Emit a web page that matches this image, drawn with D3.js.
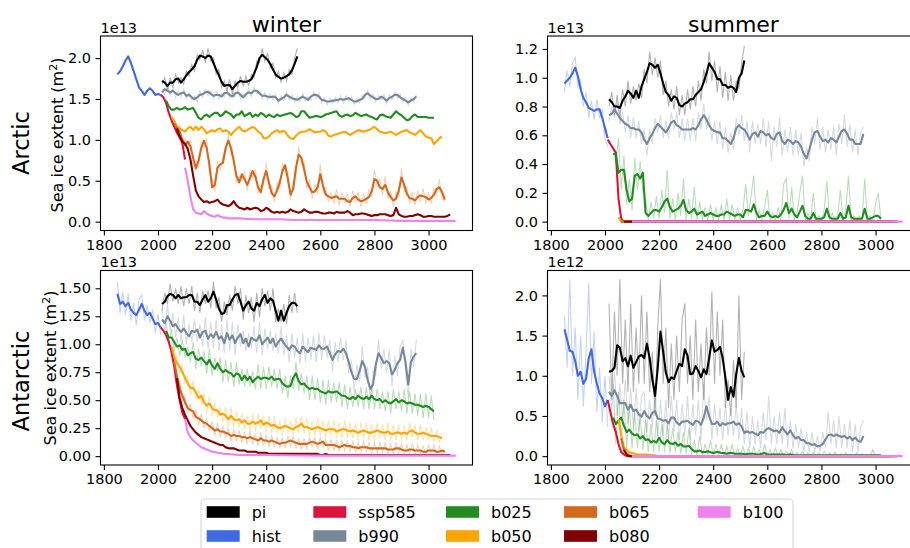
<!DOCTYPE html>
<html><head><meta charset="utf-8">
<script src="https://cdn.jsdelivr.net/npm/d3@7"></script>
<style>
html,body{margin:0;padding:0;background:#fff;}
svg text{font-family:"DejaVu Sans",sans-serif;}
</style></head>
<body><svg id="c" width="910" height="548"></svg>
<script>
// ---------------- DATA ----------------
const SERIES = ["pi","hist","ssp585","b990","b025","b050","b065","b080","b100"];
const COLORS = {pi:"#000000",hist:"#4169e1",ssp585:"#dc143c",b990:"#778899",b025:"#228b22",b050:"#ffa500",b065:"#d2691e",b080:"#800000",b100:"#ee82ee"};
// first and last year of every experiment (values are spread evenly between them)
const SPAN = {pi:[2015,2515],hist:[1850,2010],ssp585:[2010,2100],b990:[2015,2955],b025:[2030,3020],b050:[2050,3050],b065:[2060,3060],b080:[2070,3080],b100:[2100,3100]};
const X_TICKS = [1800,2000,2200,2400,2600,2800,3000];
const COL_TITLES = ["winter","summer"];
const ROW_TITLES = ["Arctic","Antarctic"];

// ---- Arctic winter (1e13 m2) ----
const AW_hist = [1.80,1.84,1.90,1.97,2.02,1.94,1.84,1.74,1.64,1.60,1.55,1.60,1.63,1.60,1.55,1.56,1.55];
const AW_ssp585 = [1.55,1.52,1.45,1.33,1.24,1.16,1.09,1.03,0.96,0.76];
const AW_pi = [1.72,1.70,1.66,1.70,1.70,1.74,1.75,1.70,1.74,1.79,1.83,1.86,1.90,1.98,2.03,2.02,2.00,2.03,2.02,1.94,1.86,1.79,1.71,1.66,1.67,1.67,1.62,1.66,1.70,1.72,1.71,1.71,1.72,1.74,1.81,1.89,2.00,2.04,2.01,1.98,1.93,1.86,1.80,1.77,1.75,1.76,1.78,1.80,1.85,1.93,2.02];
const AW_pi_raw = [1.68,1.76,1.60,1.76,1.64,1.80,1.70,1.76,1.68,1.84,1.78,1.92,1.84,2.04,1.98,2.10,1.94,2.12,1.96,2.00,1.80,1.86,1.64,1.72,1.60,1.74,1.56,1.72,1.64,1.78,1.66,1.78,1.66,1.80,1.76,1.96,1.94,2.12,1.96,2.06,1.88,1.94,1.76,1.84,1.70,1.82,1.72,1.86,1.80,2.00,2.12];
const AW_b990 = [1.58,1.62,1.60,1.58,1.60,1.57,1.55,1.57,1.58,1.54,1.55,1.52,1.50,1.52,1.55,1.56,1.58,1.59,1.56,1.54,1.55,1.55,1.53,1.57,1.58,1.55,1.53,1.57,1.58,1.55,1.52,1.56,1.58,1.57,1.60,1.60,1.57,1.54,1.54,1.53,1.52,1.53,1.52,1.48,1.50,1.52,1.55,1.53,1.51,1.50,1.49,1.51,1.53,1.51,1.49,1.53,1.55,1.55,1.53,1.49,1.48,1.47,1.47,1.48,1.48,1.49,1.50,1.49,1.50,1.51,1.49,1.47,1.47,1.49,1.50,1.55,1.57,1.54,1.52,1.50,1.50,1.53,1.51,1.48,1.51,1.53,1.55,1.55,1.52,1.50,1.48,1.46,1.48,1.50,1.53];
const AW_b990_raw = [1.62,1.56,1.66,1.54,1.64,1.52,1.60,1.52,1.62,1.50,1.58,1.48,1.54,1.46,1.60,1.52,1.62,1.54,1.60,1.50,1.59,1.50,1.57,1.52,1.62,1.51,1.57,1.52,1.62,1.51,1.56,1.52,1.63,1.53,1.64,1.56,1.61,1.50,1.58,1.49,1.56,1.49,1.56,1.44,1.54,1.48,1.59,1.49,1.55,1.46,1.53,1.47,1.57,1.47,1.53,1.49,1.59,1.51,1.57,1.45,1.52,1.43,1.51,1.44,1.52,1.45,1.54,1.45,1.54,1.47,1.53,1.43,1.51,1.45,1.54,1.51,1.61,1.50,1.56,1.46,1.54,1.49,1.55,1.44,1.55,1.49,1.59,1.51,1.56,1.46,1.52,1.42,1.52,1.46,1.56];
const AW_b025 = [1.48,1.41,1.37,1.37,1.39,1.37,1.38,1.40,1.37,1.38,1.39,1.33,1.27,1.25,1.29,1.31,1.28,1.31,1.33,1.33,1.29,1.31,1.35,1.33,1.31,1.27,1.31,1.31,1.35,1.29,1.31,1.33,1.28,1.31,1.29,1.33,1.31,1.28,1.31,1.29,1.28,1.31,1.29,1.30,1.31,1.32,1.33,1.31,1.28,1.29,1.35,1.35,1.31,1.27,1.28,1.29,1.29,1.28,1.29,1.31,1.32,1.33,1.34,1.35,1.30,1.28,1.30,1.31,1.29,1.30,1.33,1.31,1.29,1.30,1.31,1.29,1.28,1.26,1.25,1.30,1.31,1.29,1.28,1.27,1.31,1.35,1.32,1.30,1.27,1.24,1.25,1.29,1.31,1.28,1.28,1.28,1.28,1.27,1.27,1.27];
const AW_b050 = [1.28,1.23,1.16,1.14,1.12,1.10,1.14,1.16,1.12,1.16,1.12,1.16,1.13,1.08,1.10,1.12,1.10,1.13,1.14,1.10,1.12,1.10,1.06,1.10,1.13,1.16,1.12,1.10,1.12,1.14,1.16,1.14,1.10,1.08,1.02,1.02,1.04,1.08,1.10,1.12,1.09,1.11,1.10,1.05,1.02,1.01,1.05,1.08,1.10,1.10,1.11,1.13,1.11,1.09,1.10,1.10,1.12,1.10,1.05,1.04,1.06,1.07,1.08,1.09,1.10,1.08,1.06,1.08,1.10,1.12,1.11,1.10,1.11,1.12,1.14,1.16,1.13,1.10,1.09,1.08,1.09,1.10,1.08,1.06,1.08,1.10,1.11,1.12,1.09,1.08,1.06,1.09,1.12,1.08,1.04,1.03,1.02,0.95,0.98,1.02,1.04];
const AW_b065 = [1.20,1.15,1.10,1.00,0.94,0.98,0.92,0.78,0.65,0.75,0.90,0.99,0.90,0.70,0.42,0.45,0.66,0.70,0.72,0.90,0.99,0.90,0.74,0.56,0.48,0.58,0.52,0.45,0.53,0.62,0.55,0.42,0.36,0.52,0.62,0.48,0.35,0.31,0.38,0.48,0.62,0.69,0.52,0.33,0.40,0.66,0.82,0.78,0.64,0.49,0.42,0.36,0.37,0.42,0.58,0.44,0.33,0.31,0.29,0.30,0.31,0.28,0.28,0.28,0.25,0.24,0.29,0.31,0.27,0.25,0.26,0.28,0.30,0.37,0.52,0.50,0.42,0.40,0.45,0.36,0.30,0.26,0.28,0.38,0.54,0.45,0.34,0.29,0.28,0.26,0.30,0.32,0.31,0.30,0.27,0.29,0.33,0.40,0.42,0.36,0.27];
const AW_b065_raw = [1.25,1.08,1.18,0.92,1.02,0.90,1.00,0.70,0.74,0.66,0.98,0.92,1.02,0.60,0.52,0.36,0.74,0.62,0.80,0.84,1.08,0.82,0.82,0.48,0.56,0.50,0.62,0.38,0.62,0.54,0.64,0.34,0.44,0.44,0.72,0.40,0.44,0.24,0.48,0.40,0.72,0.60,0.62,0.26,0.50,0.58,0.92,0.70,0.74,0.40,0.52,0.28,0.46,0.34,0.70,0.36,0.42,0.24,0.36,0.22,0.40,0.20,0.36,0.22,0.34,0.18,0.38,0.24,0.36,0.18,0.34,0.22,0.40,0.30,0.64,0.42,0.52,0.32,0.56,0.28,0.38,0.18,0.36,0.30,0.66,0.36,0.42,0.22,0.36,0.20,0.38,0.24,0.40,0.22,0.36,0.22,0.42,0.32,0.52,0.28,0.24];
const AW_b080 = [1.14,1.04,0.98,0.95,0.89,0.76,0.56,0.38,0.31,0.27,0.24,0.25,0.23,0.24,0.25,0.27,0.23,0.21,0.20,0.19,0.21,0.25,0.20,0.17,0.16,0.15,0.17,0.15,0.16,0.17,0.16,0.13,0.14,0.17,0.15,0.12,0.11,0.12,0.11,0.12,0.11,0.12,0.15,0.13,0.12,0.11,0.12,0.15,0.13,0.11,0.11,0.12,0.12,0.11,0.10,0.10,0.11,0.11,0.10,0.12,0.11,0.11,0.11,0.13,0.11,0.08,0.09,0.09,0.10,0.10,0.09,0.08,0.07,0.08,0.08,0.09,0.09,0.09,0.08,0.07,0.08,0.17,0.09,0.07,0.06,0.06,0.07,0.07,0.08,0.09,0.08,0.06,0.06,0.07,0.07,0.06,0.06,0.06,0.06,0.06,0.07,0.09];
const AW_b100_years = [2100,2110,2120,2130,2140,2150,2160,2170,2180,2190,2200,2210,2220,2230,2240,2250,2260,2280,2300,2350,2400,2450,2500,2600,2700,2800,2900,3000,3100];
const AW_b100 = [0.66,0.50,0.30,0.15,0.11,0.10,0.09,0.13,0.10,0.08,0.07,0.06,0.08,0.06,0.05,0.05,0.04,0.04,0.04,0.03,0.03,0.03,0.02,0.02,0.02,0.02,0.01,0.01,0.01];

// ---- Arctic summer (1e13 m2) ----
const AS_hist = [0.96,0.98,1.00,1.03,1.07,1.01,0.92,0.86,0.83,0.79,0.78,0.77,0.78,0.78,0.72,0.65,0.58];
const AS_hist_raw = [0.90,1.05,0.94,1.10,1.14,0.94,0.98,0.80,0.90,0.72,0.84,0.71,0.85,0.72,0.78,0.58,0.52];
const AS_ssp585 = [0.57,0.54,0.51,0.48,0.16,0.02,0.0,0.0,0.0,0.0];
const AS_pi = [0.85,0.83,0.80,0.80,0.79,0.84,0.87,0.91,0.89,0.86,0.91,0.86,0.94,0.99,1.04,1.10,1.09,1.07,1.09,1.03,0.96,0.90,0.88,0.84,0.87,0.86,0.81,0.80,0.82,0.83,0.85,0.85,0.88,0.90,0.92,0.97,1.03,1.10,1.07,1.04,0.99,0.99,0.95,0.95,0.93,0.94,0.93,0.90,1.00,1.03,1.12];
const AS_pi_raw = [0.80,0.90,0.74,0.88,0.72,0.92,0.80,0.98,0.82,0.94,0.84,0.96,0.86,1.06,0.96,1.18,1.02,1.14,1.00,1.12,0.88,0.98,0.80,0.92,0.78,0.94,0.74,0.88,0.74,0.92,0.78,0.94,0.80,0.98,0.84,1.06,0.96,1.18,0.98,1.12,0.90,1.08,0.86,1.04,0.84,1.02,0.84,0.98,0.92,1.10,1.22];
const AS_b990 = [0.74,0.75,0.78,0.75,0.72,0.70,0.68,0.67,0.65,0.65,0.64,0.64,0.62,0.57,0.54,0.58,0.61,0.65,0.68,0.66,0.64,0.62,0.65,0.69,0.70,0.67,0.66,0.64,0.64,0.64,0.64,0.65,0.64,0.67,0.71,0.74,0.71,0.67,0.64,0.63,0.62,0.62,0.58,0.58,0.56,0.54,0.58,0.65,0.67,0.65,0.64,0.61,0.57,0.61,0.62,0.59,0.63,0.62,0.60,0.61,0.58,0.57,0.61,0.62,0.56,0.54,0.57,0.56,0.54,0.56,0.55,0.52,0.47,0.44,0.50,0.57,0.62,0.63,0.59,0.56,0.57,0.55,0.58,0.57,0.55,0.59,0.63,0.64,0.61,0.57,0.57,0.54,0.54,0.54,0.61];
const AS_b990_raw = [0.70,0.80,0.72,0.84,0.68,0.76,0.62,0.74,0.58,0.72,0.58,0.70,0.54,0.64,0.46,0.64,0.54,0.72,0.62,0.74,0.58,0.70,0.58,0.76,0.64,0.76,0.58,0.72,0.56,0.72,0.56,0.72,0.56,0.76,0.64,0.82,0.64,0.74,0.56,0.70,0.54,0.70,0.50,0.66,0.48,0.62,0.50,0.72,0.60,0.74,0.56,0.70,0.48,0.70,0.54,0.68,0.54,0.72,0.52,0.70,0.42,0.66,0.52,0.72,0.46,0.64,0.48,0.66,0.46,0.64,0.46,0.62,0.38,0.52,0.42,0.66,0.54,0.72,0.50,0.66,0.48,0.64,0.50,0.66,0.46,0.68,0.54,0.74,0.52,0.68,0.48,0.64,0.46,0.62,0.66];
const AS_b025 = [0.47,0.47,0.34,0.36,0.36,0.22,0.14,0.16,0.32,0.33,0.30,0.34,0.06,0.04,0.06,0.08,0.08,0.07,0.10,0.14,0.16,0.10,0.07,0.08,0.09,0.11,0.15,0.08,0.06,0.07,0.09,0.05,0.06,0.07,0.04,0.05,0.06,0.05,0.04,0.04,0.05,0.05,0.07,0.06,0.05,0.04,0.05,0.05,0.03,0.08,0.08,0.07,0.12,0.06,0.03,0.04,0.04,0.07,0.04,0.03,0.04,0.03,0.05,0.08,0.13,0.06,0.09,0.05,0.03,0.07,0.11,0.04,0.02,0.02,0.06,0.02,0.02,0.02,0.03,0.09,0.03,0.02,0.02,0.02,0.06,0.02,0.03,0.11,0.03,0.02,0.02,0.02,0.02,0.09,0.02,0.02,0.03,0.04,0.04,0.02];
const AS_b025_raw = [0.52,0.40,0.58,0.22,0.46,0.12,0.30,0.08,0.44,0.22,0.42,0.20,0.16,0.01,0.14,0.02,0.18,0.02,0.22,0.06,0.36,0.02,0.16,0.01,0.20,0.04,0.30,0.01,0.16,0.02,0.24,0.01,0.14,0.01,0.10,0.01,0.12,0.01,0.10,0.01,0.12,0.01,0.16,0.01,0.12,0.01,0.10,0.01,0.08,0.26,0.04,0.18,0.32,0.01,0.08,0.01,0.10,0.22,0.01,0.06,0.01,0.10,0.01,0.26,0.30,0.02,0.24,0.01,0.06,0.20,0.32,0.01,0.06,0.01,0.20,0.01,0.04,0.01,0.08,0.28,0.01,0.06,0.01,0.04,0.22,0.01,0.08,0.32,0.01,0.04,0.01,0.04,0.01,0.30,0.01,0.04,0.01,0.12,0.20,0.01];
const AS_b050_years = [2050,2060,3050];
const AS_b050 = [0.03,0.0,0.0];
const AS_b065_years = [2060,3060];
const AS_b065 = [0.0,0.0];
const AS_b080_years = [2070,3080];
const AS_b080 = [0.0,0.0];
const AS_b100_years = [2100,3100];
const AS_b100 = [0.0,0.0];

// ---- Antarctic winter (1e13 m2) ----
const NW_hist = [1.45,1.36,1.38,1.34,1.37,1.31,1.28,1.26,1.31,1.36,1.30,1.26,1.28,1.23,1.18,1.19,1.15];
const NW_hist_raw = [1.56,1.28,1.47,1.26,1.45,1.21,1.37,1.17,1.41,1.44,1.21,1.35,1.19,1.31,1.10,1.27,1.08];
const NW_ssp585 = [1.15,1.12,1.08,1.02,0.93,0.80,0.63,0.50,0.39,0.33];
const NW_pi = [1.36,1.38,1.43,1.45,1.44,1.41,1.44,1.41,1.42,1.42,1.44,1.44,1.38,1.38,1.35,1.40,1.44,1.38,1.41,1.47,1.40,1.32,1.27,1.28,1.35,1.35,1.40,1.44,1.45,1.38,1.30,1.35,1.38,1.32,1.30,1.37,1.34,1.40,1.44,1.37,1.41,1.39,1.30,1.21,1.30,1.21,1.28,1.34,1.37,1.37,1.34];
const NW_pi_raw = [1.30,1.46,1.36,1.54,1.38,1.50,1.36,1.52,1.34,1.50,1.36,1.52,1.30,1.46,1.28,1.48,1.36,1.48,1.32,1.56,1.32,1.42,1.20,1.38,1.26,1.44,1.30,1.52,1.36,1.50,1.22,1.44,1.28,1.42,1.20,1.46,1.24,1.50,1.34,1.48,1.30,1.50,1.20,1.32,1.20,1.36,1.18,1.44,1.28,1.46,1.28];
const NW_b990 = [1.22,1.19,1.25,1.21,1.16,1.18,1.14,1.11,1.14,1.10,1.07,1.12,1.11,1.13,1.06,1.11,1.12,1.05,1.09,1.06,1.11,1.05,1.07,1.01,1.10,1.04,1.08,1.01,1.06,1.09,1.01,1.05,0.98,1.06,1.04,1.03,1.08,1.00,1.03,1.06,1.01,1.05,0.98,1.02,1.05,1.01,0.98,0.95,0.99,0.98,0.94,0.92,0.98,0.95,0.93,0.97,0.96,0.95,0.99,0.96,0.96,0.98,0.92,0.86,0.91,0.94,0.93,0.96,0.92,0.84,0.75,0.69,0.69,0.76,0.85,0.80,0.68,0.60,0.64,0.82,0.92,0.88,0.83,0.85,0.83,0.73,0.77,0.83,0.86,0.97,0.84,0.64,0.84,0.89,0.92];
const NW_b990_raw = [1.32,1.10,1.36,1.12,1.28,1.06,1.24,1.02,1.26,1.00,1.18,1.02,1.22,1.02,1.18,0.98,1.24,0.96,1.20,0.96,1.22,0.94,1.18,0.92,1.22,0.94,1.20,0.90,1.18,0.98,1.12,0.94,1.10,0.96,1.16,0.92,1.20,0.90,1.14,0.96,1.12,0.94,1.10,0.92,1.16,0.90,1.08,0.84,1.10,0.88,1.06,0.82,1.10,0.84,1.06,0.86,1.08,0.84,1.10,0.86,1.08,0.88,1.04,0.76,1.02,0.84,1.06,0.86,1.04,0.74,0.86,0.58,0.82,0.66,0.98,0.70,0.80,0.48,0.76,0.72,1.04,0.78,0.96,0.74,0.96,0.62,0.90,0.72,0.98,1.04,0.74,0.52,0.96,0.80,1.04];
const NW_b025 = [1.12,1.06,1.06,1.02,0.98,0.99,0.95,0.96,0.90,0.92,0.93,0.87,0.86,0.88,0.85,0.82,0.86,0.81,0.78,0.83,0.78,0.75,0.77,0.75,0.74,0.71,0.74,0.73,0.68,0.72,0.68,0.71,0.66,0.69,0.71,0.69,0.70,0.70,0.69,0.71,0.68,0.69,0.69,0.65,0.63,0.62,0.63,0.70,0.74,0.67,0.64,0.65,0.62,0.60,0.61,0.60,0.60,0.58,0.57,0.56,0.58,0.57,0.57,0.58,0.56,0.54,0.54,0.52,0.51,0.53,0.51,0.54,0.52,0.51,0.53,0.51,0.54,0.51,0.50,0.51,0.48,0.50,0.48,0.47,0.49,0.51,0.48,0.50,0.49,0.47,0.48,0.47,0.46,0.46,0.45,0.44,0.45,0.44,0.42,0.40];
const NW_b025_raw = [1.20,1.00,1.14,0.94,1.06,0.90,1.04,0.88,0.98,0.84,1.02,0.78,0.96,0.80,0.94,0.74,0.96,0.72,0.88,0.76,0.88,0.66,0.86,0.66,0.84,0.62,0.84,0.64,0.78,0.62,0.78,0.62,0.76,0.60,0.82,0.60,0.80,0.60,0.80,0.62,0.78,0.60,0.78,0.56,0.72,0.52,0.72,0.60,0.84,0.58,0.74,0.56,0.72,0.50,0.72,0.50,0.70,0.48,0.68,0.46,0.68,0.48,0.66,0.48,0.66,0.44,0.64,0.42,0.62,0.44,0.60,0.44,0.62,0.42,0.62,0.42,0.64,0.42,0.60,0.42,0.58,0.40,0.58,0.38,0.60,0.42,0.58,0.40,0.60,0.38,0.58,0.38,0.56,0.36,0.56,0.34,0.56,0.34,0.54,0.32];
const NW_b050 = [0.98,0.89,0.83,0.80,0.75,0.70,0.65,0.61,0.61,0.57,0.52,0.54,0.48,0.45,0.47,0.43,0.41,0.41,0.37,0.38,0.36,0.33,0.36,0.33,0.32,0.33,0.30,0.32,0.29,0.29,0.31,0.29,0.30,0.32,0.28,0.30,0.29,0.27,0.28,0.26,0.25,0.26,0.27,0.26,0.25,0.24,0.26,0.27,0.29,0.26,0.26,0.25,0.24,0.25,0.26,0.25,0.24,0.23,0.24,0.24,0.24,0.22,0.23,0.24,0.24,0.23,0.22,0.23,0.22,0.21,0.22,0.23,0.22,0.21,0.21,0.22,0.23,0.22,0.21,0.21,0.22,0.20,0.20,0.21,0.21,0.20,0.21,0.20,0.22,0.23,0.21,0.20,0.20,0.21,0.20,0.19,0.18,0.18,0.18,0.17,0.16];
const NW_b050_raw = [1.02,0.82,0.90,0.74,0.82,0.64,0.72,0.54,0.68,0.50,0.60,0.46,0.56,0.38,0.54,0.36,0.48,0.34,0.44,0.30,0.44,0.26,0.44,0.26,0.40,0.26,0.38,0.24,0.36,0.22,0.38,0.22,0.38,0.24,0.36,0.22,0.36,0.20,0.36,0.20,0.32,0.18,0.34,0.20,0.32,0.18,0.34,0.20,0.36,0.20,0.34,0.18,0.32,0.18,0.34,0.18,0.32,0.16,0.32,0.18,0.32,0.16,0.30,0.16,0.32,0.16,0.30,0.16,0.30,0.14,0.30,0.16,0.30,0.14,0.28,0.14,0.30,0.16,0.28,0.14,0.30,0.14,0.28,0.14,0.28,0.14,0.28,0.14,0.30,0.16,0.28,0.14,0.28,0.14,0.26,0.14,0.26,0.12,0.24,0.12,0.20];
const NW_b065 = [0.84,0.72,0.61,0.54,0.48,0.43,0.41,0.40,0.35,0.34,0.32,0.30,0.29,0.27,0.25,0.23,0.24,0.22,0.22,0.21,0.20,0.18,0.19,0.18,0.18,0.17,0.17,0.16,0.17,0.16,0.15,0.14,0.16,0.14,0.14,0.13,0.14,0.13,0.12,0.11,0.12,0.12,0.13,0.14,0.13,0.12,0.11,0.11,0.11,0.11,0.12,0.13,0.12,0.11,0.12,0.13,0.10,0.10,0.10,0.10,0.09,0.08,0.09,0.10,0.09,0.09,0.08,0.08,0.07,0.08,0.08,0.08,0.07,0.07,0.07,0.07,0.07,0.07,0.07,0.06,0.06,0.06,0.07,0.07,0.06,0.05,0.05,0.06,0.06,0.05,0.05,0.05,0.04,0.04,0.05,0.05,0.05,0.04,0.04,0.05,0.04];
const NW_b065_raw = [0.90,0.66,0.68,0.48,0.54,0.38,0.47,0.34,0.41,0.28,0.38,0.25,0.34,0.22,0.31,0.18,0.30,0.17,0.27,0.16,0.25,0.13,0.24,0.13,0.23,0.12,0.22,0.11,0.22,0.11,0.20,0.09,0.21,0.09,0.19,0.08,0.19,0.08,0.17,0.07,0.17,0.07,0.18,0.09,0.18,0.07,0.16,0.06,0.16,0.06,0.17,0.08,0.17,0.06,0.17,0.08,0.15,0.05,0.15,0.05,0.14,0.04,0.14,0.05,0.14,0.04,0.13,0.04,0.12,0.04,0.13,0.04,0.12,0.03,0.12,0.03,0.12,0.03,0.12,0.02,0.11,0.02,0.12,0.03,0.11,0.02,0.10,0.02,0.11,0.02,0.10,0.02,0.09,0.01,0.10,0.02,0.10,0.01,0.09,0.02,0.05];
const NW_b080 = [0.70,0.52,0.43,0.37,0.32,0.27,0.24,0.21,0.19,0.17,0.16,0.15,0.14,0.13,0.12,0.11,0.10,0.10,0.08,0.07,0.07,0.07,0.06,0.05,0.05,0.05,0.04,0.04,0.04,0.04,0.03,0.03,0.03,0.03,0.02,0.02,0.02,0.02,0.02,0.02,0.02,0.02,0.02,0.02,0.02,0.02,0.02,0.02,0.02,0.02,0.02,0.02,0.02,0.01,0.01,0.02,0.01,0.01,0.01,0.01,0.01,0.01,0.01,0.01,0.01,0.01,0.01,0.01,0.01,0.01,0.01,0.01,0.01,0.01,0.01,0.01,0.01,0.01,0.01,0.01,0.01,0.01,0.01,0.01,0.01,0.01,0.01,0.01,0.01,0.01,0.01,0.01,0.01,0.01,0.01,0.01,0.01,0.01,0.01,0.01,0.01,0.01];
const NW_b100_years = [2100,2110,2120,2130,2140,2150,2160,2170,2180,2190,2200,2220,2250,2300,2400,2600,2800,3000,3100];
const NW_b100 = [0.33,0.21,0.17,0.14,0.12,0.10,0.08,0.07,0.06,0.05,0.04,0.03,0.02,0.01,0.01,0.005,0.005,0.005,0.005];

// ---- Antarctic summer (1e12 m2) ----
const NS_hist = [1.58,1.45,1.31,1.30,1.18,1.00,1.05,0.90,0.96,1.22,1.33,1.05,0.90,0.78,0.72,0.62,0.70];
const NS_hist_raw = [1.75,1.10,2.20,1.00,1.60,0.70,1.50,0.62,1.30,2.15,0.90,1.55,0.55,1.10,0.42,1.00,0.36];
const NS_ssp585 = [0.70,0.55,0.40,0.30,0.15,0.05,0.02,0.0,0.0,0.0];
const NS_pi = [1.05,1.06,1.10,1.38,1.35,1.18,1.22,1.12,1.25,1.10,1.17,1.24,1.26,1.22,1.40,1.22,0.96,0.75,1.10,1.55,1.30,1.04,0.92,0.98,0.96,1.06,1.15,1.12,1.33,1.25,1.02,1.03,1.12,1.06,0.98,1.08,1.02,1.22,1.44,1.30,1.32,1.36,1.22,0.98,0.70,0.86,0.74,1.02,1.22,1.06,0.98];
const NS_pi_raw = [1.90,0.70,1.80,1.00,2.20,0.90,1.70,0.80,1.90,0.80,1.60,0.90,2.00,0.90,1.80,0.80,1.30,0.50,1.60,2.20,0.90,1.60,0.60,1.40,0.70,1.50,0.80,1.70,1.90,0.90,1.50,0.70,1.70,0.80,1.40,0.70,1.60,1.00,2.05,0.90,1.80,1.00,1.70,0.60,0.95,0.50,1.20,0.60,2.00,0.70,1.30];
const NS_b990 = [0.80,0.75,0.82,0.75,0.66,0.66,0.66,0.58,0.64,0.56,0.58,0.52,0.49,0.56,0.50,0.47,0.54,0.56,0.47,0.46,0.44,0.45,0.41,0.48,0.48,0.42,0.39,0.43,0.43,0.44,0.41,0.39,0.44,0.43,0.39,0.48,0.62,0.50,0.40,0.40,0.43,0.38,0.41,0.39,0.41,0.41,0.43,0.39,0.41,0.37,0.29,0.31,0.29,0.30,0.28,0.26,0.30,0.29,0.33,0.35,0.33,0.31,0.32,0.29,0.36,0.31,0.27,0.32,0.26,0.22,0.24,0.20,0.20,0.16,0.16,0.14,0.15,0.12,0.13,0.15,0.21,0.26,0.27,0.25,0.27,0.25,0.24,0.25,0.22,0.24,0.20,0.23,0.19,0.18,0.25];
const NS_b990_raw = [1.00,0.55,1.05,0.50,0.90,0.45,0.95,0.40,0.85,0.35,0.85,0.30,0.75,0.80,0.30,0.70,0.35,0.85,0.25,0.70,0.25,0.70,0.20,0.75,0.30,0.70,0.20,0.65,0.25,0.75,0.20,0.65,0.25,0.70,0.20,0.90,0.45,0.75,0.20,0.65,0.25,0.60,0.20,0.65,0.25,0.60,0.25,0.65,0.20,0.60,0.15,0.55,0.10,0.50,0.15,0.45,0.10,0.55,0.20,0.75,0.15,0.50,0.15,0.55,0.15,0.60,0.10,0.45,0.10,0.40,0.10,0.35,0.05,0.30,0.05,0.30,0.05,0.25,0.05,0.30,0.10,0.55,0.15,0.45,0.10,0.50,0.10,0.40,0.10,0.45,0.05,0.40,0.05,0.35,0.45];
const NS_b025 = [0.48,0.40,0.44,0.48,0.38,0.30,0.33,0.28,0.26,0.27,0.22,0.25,0.20,0.21,0.17,0.19,0.17,0.23,0.17,0.15,0.20,0.16,0.15,0.17,0.13,0.15,0.12,0.12,0.13,0.09,0.06,0.06,0.07,0.05,0.05,0.06,0.05,0.04,0.05,0.05,0.04,0.04,0.03,0.04,0.04,0.03,0.03,0.03,0.03,0.02,0.03,0.03,0.03,0.02,0.02,0.03,0.04,0.02,0.02,0.02,0.02,0.02,0.02,0.02,0.01,0.02,0.02,0.01,0.01,0.01,0.01,0.01,0.01,0.01,0.01,0.01,0.01,0.01,0.01,0.01,0.01,0.01,0.01,0.01,0.01,0.01,0.01,0.01,0.01,0.01,0.01,0.01,0.01,0.01,0.01,0.01,0.01,0.01,0.01,0.01];
const NS_b025_raw = [0.90,0.15,0.80,0.20,0.70,0.10,0.65,0.10,0.55,0.10,0.50,0.08,0.45,0.05,0.40,0.05,0.45,0.05,0.40,0.05,0.40,0.04,0.35,0.05,0.30,0.03,0.30,0.03,0.35,0.02,0.20,0.01,0.25,0.01,0.15,0.01,0.20,0.01,0.15,0.01,0.15,0.00,0.12,0.00,0.15,0.00,0.10,0.00,0.12,0.00,0.10,0.00,0.12,0.00,0.08,0.00,0.15,0.00,0.08,0.00,0.10,0.00,0.08,0.00,0.06,0.00,0.08,0.00,0.05,0.00,0.06,0.00,0.04,0.00,0.05,0.00,0.04,0.00,0.06,0.00,0.04,0.00,0.05,0.00,0.03,0.00,0.04,0.00,0.03,0.00,0.04,0.00,0.03,0.00,0.02,0.00,0.08,0.00,0.02,0.00];
const NS_b050_years = [2050,2060,2070,2080,2090,2100,2120,2150,2180,2200,3050];
const NS_b050 = [0.46,0.26,0.11,0.08,0.05,0.04,0.02,0.02,0.01,0.0,0.0];
const NS_b065_years = [2060,2070,2080,2090,2100,3060];
const NS_b065 = [0.22,0.07,0.03,0.01,0.0,0.0];
const NS_b080_years = [2070,2080,2090,3080];
const NS_b080 = [0.08,0.02,0.0,0.0];
const NS_b100_years = [2100,3100];
const NS_b100 = [0.0,0.0];

// ---------------- DRAW ----------------
const DATA = {
  AW:{hist:[AW_hist],ssp585:[AW_ssp585],pi:[AW_pi,AW_pi_raw],b990:[AW_b990,AW_b990_raw],b025:[AW_b025],b050:[AW_b050],b065:[AW_b065,AW_b065_raw],b080:[AW_b080],b100:[AW_b100,null,AW_b100_years]},
  AS:{hist:[AS_hist,AS_hist_raw],ssp585:[AS_ssp585],pi:[AS_pi,AS_pi_raw],b990:[AS_b990,AS_b990_raw],b025:[AS_b025,AS_b025_raw],b050:[AS_b050,null,AS_b050_years],b065:[AS_b065,null,AS_b065_years],b080:[AS_b080,null,AS_b080_years],b100:[AS_b100,null,AS_b100_years]},
  NW:{hist:[NW_hist,NW_hist_raw],ssp585:[NW_ssp585],pi:[NW_pi,NW_pi_raw],b990:[NW_b990,NW_b990_raw],b025:[NW_b025,NW_b025_raw],b050:[NW_b050,NW_b050_raw],b065:[NW_b065,NW_b065_raw],b080:[NW_b080],b100:[NW_b100,null,NW_b100_years]},
  NS:{hist:[NS_hist,NS_hist_raw],ssp585:[NS_ssp585],pi:[NS_pi,NS_pi_raw],b990:[NS_b990,NS_b990_raw],b025:[NS_b025,NS_b025_raw],b050:[NS_b050,null,NS_b050_years],b065:[NS_b065,null,NS_b065_years],b080:[NS_b080,null,NS_b080_years],b100:[NS_b100,null,NS_b100_years]}
};
const PANELS = [
  {key:"AW",col:0,row:0,dom:[-0.108,2.27],ticks:[0,0.5,1,1.5,2],fmt:".1f",off:"1e13"},
  {key:"AS",col:1,row:0,dom:[-0.0615,1.29],ticks:[0,0.2,0.4,0.6,0.8,1.0,1.2],fmt:".1f",off:"1e13"},
  {key:"NW",col:0,row:1,dom:[-0.079,1.659],ticks:[0,0.25,0.5,0.75,1,1.25,1.5],fmt:".2f",off:"1e13"},
  {key:"NS",col:1,row:1,dom:[-0.11,2.31],ticks:[0,0.5,1,1.5,2],fmt:".1f",off:"1e12"}
];

const svg = d3.select("#c");
const colX = [100.5, 547.5], W = 372;
const rowY = [36, 270.5], H = 194.5;
const FS = 14.5;

function toPoints(vals, key, years){
  if (years) return years.map((t,i)=>[t, vals[i]]);
  const [a,b] = SPAN[key], n = vals.length;
  return vals.map((v,i)=>[a + (b-a)*i/(n-1), v]);
}

PANELS.forEach((p,pi)=>{
  const x0 = colX[p.col], y0 = rowY[p.row];
  const x = d3.scaleLinear().domain([1787.5,3162.5]).range([x0, x0+W]);
  const y = d3.scaleLinear().domain(p.dom).range([y0+H, y0]);
  const g = svg.append("g");
  const cid = "clip"+pi;
  svg.append("clipPath").attr("id",cid).append("rect").attr("x",x0).attr("y",y0).attr("width",W).attr("height",H);
  const plot = g.append("g").attr("clip-path",`url(#${cid})`);
  const line = d3.line().x(d=>x(d[0])).y(d=>y(d[1]));
  const D = DATA[p.key];
  // faint annual-ish lines
  SERIES.forEach(s=>{
    const e = D[s]; if(!e || !e[1]) return;
    plot.append("path").attr("d", line(toPoints(e[1], s, null)))
      .attr("fill","none").attr("stroke",COLORS[s]).attr("stroke-opacity",0.3).attr("stroke-width",1.1);
  });
  // smoothed lines
  SERIES.forEach(s=>{
    const e = D[s]; if(!e) return;
    plot.append("path").attr("d", line(toPoints(e[0], s, e[2])))
      .attr("fill","none").attr("stroke",COLORS[s]).attr("stroke-width",2.1).attr("stroke-linejoin","round");
  });
  // axes
  const ax = g.append("g").attr("transform",`translate(0,${y0+H})`)
    .call(d3.axisBottom(x).tickValues(X_TICKS).tickFormat(d3.format("d")).tickSize(5).tickPadding(4));
  const ay = g.append("g").attr("transform",`translate(${x0},0)`)
    .call(d3.axisLeft(y).tickValues(p.ticks).tickFormat(d3.format(p.fmt)).tickSize(5).tickPadding(4.5));
  [ax,ay].forEach(a=>{
    a.select(".domain").remove();
    a.selectAll("text").attr("font-size",FS).attr("font-family","DejaVu Sans").attr("fill","#000");
    a.selectAll("line").attr("stroke","#000").attr("stroke-width",1.1);
  });
  g.append("rect").attr("x",x0).attr("y",y0).attr("width",W).attr("height",H)
    .attr("fill","none").attr("stroke","#000").attr("stroke-width",1.1);
  g.append("text").attr("x",x0).attr("y",y0-3.5).attr("font-size",FS).text(p.off);
  if(p.row===0){
    g.append("text").attr("x",x0+W/2).attr("y",31.5).attr("text-anchor","middle").attr("font-size",22).text(COL_TITLES[p.col]);
  }
  if(p.col===0){
    const cy = p.row===0 ? 143 : 381;
    g.append("text").attr("transform",`translate(28.5,${cy}) rotate(-90)`).attr("text-anchor","middle").attr("font-size",22.5).text(ROW_TITLES[p.row]);
    const ly = p.row===0 ? 135 : 368;
    const lx = p.row===0 ? 63 : 55.5;
    const t = g.append("text").attr("transform",`translate(${lx},${ly}) rotate(-90)`).attr("text-anchor","middle").attr("font-size",16);
    t.append("tspan").text("Sea ice extent (m");
    t.append("tspan").attr("font-size",11).attr("dy",-6).text("2");
    t.append("tspan").attr("dy",6).text(")");
  }
});

// legend
const lg = svg.append("g");
lg.append("rect").attr("x",201).attr("y",499).attr("width",592).attr("height",60).attr("rx",4)
  .attr("fill","#fff").attr("fill-opacity",0.8).attr("stroke","#d6d6d6").attr("stroke-width",1.1);
const colStarts = [206.7, 313.3, 446, 564, 697.7];
const rowsY = [512, 536];
SERIES.forEach((s,i)=>{
  const c = Math.floor(i/2), r = i%2;
  const lx = colStarts[c], ly = rowsY[r];
  lg.append("rect").attr("x",lx).attr("y",ly-5.8).attr("width",33).attr("height",11.6).attr("fill",COLORS[s]);
  lg.append("text").attr("x",lx+45).attr("y",ly).attr("dy","0.36em").attr("font-size",16).text(s);
});
</script>
</body></html>
